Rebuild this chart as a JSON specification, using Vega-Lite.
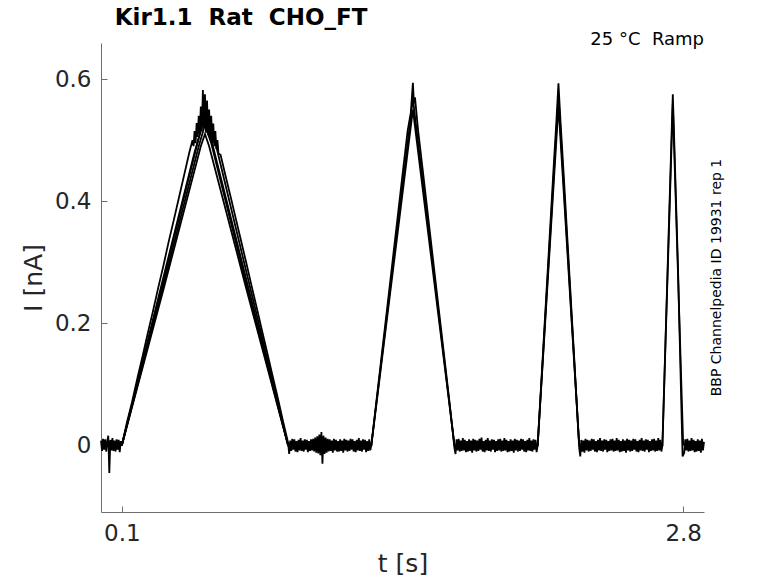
{
  "$schema": "https://vega.github.io/schema/vega-lite/v6.json",
  "autosize": "none",
  "padding": {"left": 101, "top": 43, "right": 74, "bottom": 71},
  "width": 603,
  "height": 469,
  "config": {
    "font": "DejaVu Sans",
    "view": {"stroke": null},
    "axis": {
      "grid": false,
      "domainColor": "#6e6e6e",
      "tickColor": "#6e6e6e",
      "labelColor": "#262626",
      "titleColor": "#262626",
      "labelFontSize": 23,
      "titleFontSize": 25,
      "titleFontWeight": "normal",
      "tickSize": -6
    }
  },
  "layer": [
    {
      "data": {
        "values": [
          {"t":0,"i":0.008,"s":1},{"t":0.005,"i":-0.009,"s":1},{"t":0.01,"i":0.011,"s":1},{"t":0.015,"i":-0.007,"s":1},{"t":0.02,"i":0.01,"s":1},{"t":0.025,"i":-0.01,"s":1},{"t":0.03,"i":0.007,"s":1},{"t":0.035,"i":0.016,"s":1},{"t":0.04,"i":-0.045,"s":1},{"t":0.045,"i":0.009,"s":1},{"t":0.05,"i":-0.008,"s":1},{"t":0.055,"i":0.012,"s":1},{"t":0.06,"i":-0.009,"s":1},{"t":0.065,"i":0.008,"s":1},{"t":0.07,"i":-0.01,"s":1},{"t":0.075,"i":0.01,"s":1},{"t":0.08,"i":-0.007,"s":1},{"t":0.085,"i":0.009,"s":1},{"t":0.09,"i":-0.011,"s":1},{"t":0.095,"i":0.007,"s":1},{"t":0.1,"i":0,"s":1},
          {"t":0.125,"i":0.038,"s":1},{"t":0.15,"i":0.072,"s":1},{"t":0.175,"i":0.11,"s":1},{"t":0.2,"i":0.146,"s":1},{"t":0.225,"i":0.184,"s":1},{"t":0.25,"i":0.22,"s":1},{"t":0.275,"i":0.258,"s":1},{"t":0.3,"i":0.294,"s":1},{"t":0.325,"i":0.333,"s":1},{"t":0.35,"i":0.369,"s":1},{"t":0.375,"i":0.406,"s":1},{"t":0.4,"i":0.443,"s":1},{"t":0.425,"i":0.48,"s":1},
          {"t":0.44,"i":0.5,"s":1},{"t":0.445,"i":0.49,"s":1},{"t":0.45,"i":0.515,"s":1},{"t":0.455,"i":0.495,"s":1},{"t":0.46,"i":0.528,"s":1},{"t":0.465,"i":0.505,"s":1},{"t":0.47,"i":0.54,"s":1},{"t":0.475,"i":0.51,"s":1},{"t":0.48,"i":0.555,"s":1},{"t":0.485,"i":0.515,"s":1},{"t":0.49,"i":0.582,"s":1},{"t":0.495,"i":0.52,"s":1},{"t":0.5,"i":0.575,"s":1},{"t":0.505,"i":0.512,"s":1},{"t":0.51,"i":0.565,"s":1},{"t":0.515,"i":0.508,"s":1},{"t":0.52,"i":0.55,"s":1},{"t":0.525,"i":0.5,"s":1},{"t":0.53,"i":0.54,"s":1},{"t":0.535,"i":0.495,"s":1},{"t":0.54,"i":0.527,"s":1},{"t":0.545,"i":0.49,"s":1},{"t":0.55,"i":0.515,"s":1},{"t":0.555,"i":0.485,"s":1},{"t":0.56,"i":0.5,"s":1},{"t":0.565,"i":0.478,"s":1},
          {"t":0.575,"i":0.476,"s":1},{"t":0.6,"i":0.44,"s":1},{"t":0.625,"i":0.405,"s":1},{"t":0.65,"i":0.369,"s":1},{"t":0.675,"i":0.333,"s":1},{"t":0.7,"i":0.297,"s":1},{"t":0.725,"i":0.26,"s":1},{"t":0.75,"i":0.224,"s":1},{"t":0.775,"i":0.187,"s":1},{"t":0.8,"i":0.151,"s":1},{"t":0.825,"i":0.114,"s":1},{"t":0.85,"i":0.078,"s":1},{"t":0.875,"i":0.04,"s":1},{"t":0.9,"i":0.004,"s":1},
          {"t":0.905,"i":-0.014,"s":1},{"t":0.91,"i":0.008,"s":1},{"t":0.915,"i":-0.009,"s":1},{"t":0.92,"i":0.011,"s":1},{"t":0.925,"i":-0.007,"s":1},{"t":0.93,"i":0.01,"s":1},{"t":0.935,"i":-0.01,"s":1},{"t":0.94,"i":0.007,"s":1},{"t":0.945,"i":-0.011,"s":1},{"t":0.95,"i":0.009,"s":1},{"t":0.955,"i":-0.008,"s":1},{"t":0.96,"i":0.012,"s":1},{"t":0.965,"i":-0.009,"s":1},{"t":0.97,"i":0.008,"s":1},{"t":0.975,"i":-0.01,"s":1},{"t":0.98,"i":0.01,"s":1},{"t":0.985,"i":-0.007,"s":1},{"t":0.99,"i":0.009,"s":1},{"t":0.995,"i":-0.011,"s":1},{"t":1.0,"i":0.007,"s":1},
          {"t":1.005,"i":-0.009,"s":1},{"t":1.01,"i":0.01,"s":1},{"t":1.015,"i":-0.008,"s":1},{"t":1.02,"i":0.011,"s":1},{"t":1.025,"i":-0.01,"s":1},{"t":1.03,"i":0.013,"s":1},{"t":1.035,"i":-0.012,"s":1},{"t":1.04,"i":0.015,"s":1},{"t":1.045,"i":-0.013,"s":1},{"t":1.05,"i":0.018,"s":1},{"t":1.055,"i":-0.016,"s":1},{"t":1.06,"i":0.022,"s":1},{"t":1.065,"i":-0.03,"s":1},{"t":1.07,"i":0.016,"s":1},{"t":1.075,"i":-0.014,"s":1},{"t":1.08,"i":0.013,"s":1},{"t":1.085,"i":-0.012,"s":1},{"t":1.09,"i":0.011,"s":1},{"t":1.095,"i":-0.01,"s":1},{"t":1.1,"i":0.01,"s":1},
          {"t":1.105,"i":-0.009,"s":1},{"t":1.11,"i":0.008,"s":1},{"t":1.115,"i":-0.012,"s":1},{"t":1.12,"i":0.011,"s":1},{"t":1.125,"i":-0.008,"s":1},{"t":1.13,"i":0.009,"s":1},{"t":1.135,"i":-0.01,"s":1},{"t":1.14,"i":0.007,"s":1},{"t":1.145,"i":-0.01,"s":1},{"t":1.15,"i":0.01,"s":1},{"t":1.155,"i":-0.009,"s":1},{"t":1.16,"i":0.008,"s":1},{"t":1.165,"i":-0.012,"s":1},{"t":1.17,"i":0.011,"s":1},{"t":1.175,"i":-0.008,"s":1},{"t":1.18,"i":0.009,"s":1},{"t":1.185,"i":-0.01,"s":1},{"t":1.19,"i":0.008,"s":1},{"t":1.195,"i":-0.009,"s":1},{"t":1.2,"i":0.011,"s":1},
          {"t":1.205,"i":-0.007,"s":1},{"t":1.21,"i":0.01,"s":1},{"t":1.215,"i":-0.01,"s":1},{"t":1.22,"i":0.007,"s":1},{"t":1.225,"i":-0.011,"s":1},{"t":1.23,"i":0.009,"s":1},{"t":1.235,"i":-0.008,"s":1},{"t":1.24,"i":0.012,"s":1},{"t":1.245,"i":-0.009,"s":1},{"t":1.25,"i":0.008,"s":1},{"t":1.255,"i":-0.01,"s":1},{"t":1.26,"i":0.01,"s":1},{"t":1.265,"i":-0.007,"s":1},{"t":1.27,"i":0.009,"s":1},{"t":1.275,"i":-0.011,"s":1},{"t":1.28,"i":0.007,"s":1},{"t":1.285,"i":-0.009,"s":1},{"t":1.29,"i":0.01,"s":1},{"t":1.295,"i":-0.008,"s":1},{"t":1.3,"i":0,"s":1},
          {"t":1.325,"i":0.074,"s":1},{"t":1.35,"i":0.148,"s":1},{"t":1.375,"i":0.221,"s":1},{"t":1.4,"i":0.295,"s":1},{"t":1.425,"i":0.369,"s":1},{"t":1.45,"i":0.443,"s":1},{"t":1.475,"i":0.516,"s":1},{"t":1.49,"i":0.545,"s":1},{"t":1.5,"i":0.594,"s":1},{"t":1.505,"i":0.56,"s":1},{"t":1.51,"i":0.57,"s":1},{"t":1.525,"i":0.516,"s":1},{"t":1.55,"i":0.443,"s":1},{"t":1.575,"i":0.369,"s":1},{"t":1.6,"i":0.295,"s":1},{"t":1.625,"i":0.221,"s":1},{"t":1.65,"i":0.148,"s":1},{"t":1.675,"i":0.074,"s":1},{"t":1.7,"i":-0.005,"s":1},
          {"t":1.705,"i":-0.014,"s":1},{"t":1.71,"i":0.01,"s":1},{"t":1.715,"i":-0.008,"s":1},{"t":1.72,"i":0.011,"s":1},{"t":1.725,"i":-0.01,"s":1},{"t":1.73,"i":0.008,"s":1},{"t":1.735,"i":-0.009,"s":1},{"t":1.74,"i":0.012,"s":1},{"t":1.745,"i":-0.008,"s":1},{"t":1.75,"i":0.009,"s":1},{"t":1.755,"i":-0.011,"s":1},{"t":1.76,"i":0.007,"s":1},{"t":1.765,"i":-0.01,"s":1},{"t":1.77,"i":0.01,"s":1},{"t":1.775,"i":-0.009,"s":1},{"t":1.78,"i":0.008,"s":1},{"t":1.785,"i":-0.012,"s":1},{"t":1.79,"i":0.011,"s":1},{"t":1.795,"i":-0.008,"s":1},{"t":1.8,"i":0.009,"s":1},
          {"t":1.805,"i":-0.01,"s":1},{"t":1.81,"i":0.008,"s":1},{"t":1.815,"i":-0.009,"s":1},{"t":1.82,"i":0.011,"s":1},{"t":1.825,"i":-0.007,"s":1},{"t":1.83,"i":0.013,"s":1},{"t":1.835,"i":-0.01,"s":1},{"t":1.84,"i":0.007,"s":1},{"t":1.845,"i":-0.011,"s":1},{"t":1.85,"i":0.009,"s":1},{"t":1.855,"i":-0.008,"s":1},{"t":1.86,"i":0.012,"s":1},{"t":1.865,"i":-0.009,"s":1},{"t":1.87,"i":0.008,"s":1},{"t":1.875,"i":-0.01,"s":1},{"t":1.88,"i":0.01,"s":1},{"t":1.885,"i":-0.007,"s":1},{"t":1.89,"i":0.009,"s":1},{"t":1.895,"i":-0.011,"s":1},{"t":1.9,"i":0.007,"s":1},
          {"t":1.905,"i":-0.009,"s":1},{"t":1.91,"i":0.01,"s":1},{"t":1.915,"i":-0.008,"s":1},{"t":1.92,"i":0.011,"s":1},{"t":1.925,"i":-0.01,"s":1},{"t":1.93,"i":0.008,"s":1},{"t":1.935,"i":-0.009,"s":1},{"t":1.94,"i":0.012,"s":1},{"t":1.945,"i":-0.008,"s":1},{"t":1.95,"i":0.009,"s":1},{"t":1.955,"i":-0.011,"s":1},{"t":1.96,"i":0.007,"s":1},{"t":1.965,"i":-0.01,"s":1},{"t":1.97,"i":0.01,"s":1},{"t":1.975,"i":-0.009,"s":1},{"t":1.98,"i":0.008,"s":1},{"t":1.985,"i":-0.012,"s":1},{"t":1.99,"i":0.011,"s":1},{"t":1.995,"i":-0.008,"s":1},{"t":2.0,"i":0.009,"s":1},
          {"t":2.005,"i":-0.01,"s":1},{"t":2.01,"i":0.008,"s":1},{"t":2.015,"i":-0.009,"s":1},{"t":2.02,"i":0.011,"s":1},{"t":2.025,"i":-0.007,"s":1},{"t":2.03,"i":0.01,"s":1},{"t":2.035,"i":-0.01,"s":1},{"t":2.04,"i":0.007,"s":1},{"t":2.045,"i":-0.011,"s":1},{"t":2.05,"i":0.009,"s":1},{"t":2.055,"i":-0.008,"s":1},{"t":2.06,"i":0.012,"s":1},{"t":2.065,"i":-0.009,"s":1},{"t":2.07,"i":0.008,"s":1},{"t":2.075,"i":-0.01,"s":1},{"t":2.08,"i":0.01,"s":1},{"t":2.085,"i":-0.007,"s":1},{"t":2.09,"i":0.009,"s":1},{"t":2.095,"i":-0.011,"s":1},{"t":2.1,"i":0,"s":1},
          {"t":2.125,"i":0.148,"s":1},{"t":2.15,"i":0.296,"s":1},{"t":2.175,"i":0.445,"s":1},{"t":2.19,"i":0.53,"s":1},{"t":2.2,"i":0.593,"s":1},{"t":2.21,"i":0.53,"s":1},{"t":2.225,"i":0.445,"s":1},{"t":2.25,"i":0.296,"s":1},{"t":2.275,"i":0.148,"s":1},{"t":2.3,"i":-0.005,"s":1},
          {"t":2.305,"i":-0.018,"s":1},{"t":2.31,"i":0.009,"s":1},{"t":2.315,"i":-0.01,"s":1},{"t":2.32,"i":0.008,"s":1},{"t":2.325,"i":-0.012,"s":1},{"t":2.33,"i":0.011,"s":1},{"t":2.335,"i":-0.008,"s":1},{"t":2.34,"i":0.009,"s":1},{"t":2.345,"i":-0.01,"s":1},{"t":2.35,"i":0.008,"s":1},{"t":2.355,"i":-0.009,"s":1},{"t":2.36,"i":0.011,"s":1},{"t":2.365,"i":-0.007,"s":1},{"t":2.37,"i":0.01,"s":1},{"t":2.375,"i":-0.01,"s":1},{"t":2.38,"i":0.007,"s":1},{"t":2.385,"i":-0.011,"s":1},{"t":2.39,"i":0.009,"s":1},{"t":2.395,"i":-0.008,"s":1},{"t":2.4,"i":0.012,"s":1},
          {"t":2.405,"i":-0.009,"s":1},{"t":2.41,"i":0.008,"s":1},{"t":2.415,"i":-0.01,"s":1},{"t":2.42,"i":0.01,"s":1},{"t":2.425,"i":-0.007,"s":1},{"t":2.43,"i":0.009,"s":1},{"t":2.435,"i":-0.011,"s":1},{"t":2.44,"i":0.007,"s":1},{"t":2.445,"i":-0.009,"s":1},{"t":2.45,"i":0.01,"s":1},{"t":2.455,"i":-0.008,"s":1},{"t":2.46,"i":0.011,"s":1},{"t":2.465,"i":-0.01,"s":1},{"t":2.47,"i":0.008,"s":1},{"t":2.475,"i":-0.009,"s":1},{"t":2.48,"i":0.012,"s":1},{"t":2.485,"i":-0.008,"s":1},{"t":2.49,"i":0.009,"s":1},{"t":2.495,"i":-0.011,"s":1},{"t":2.5,"i":0.007,"s":1},
          {"t":2.505,"i":-0.01,"s":1},{"t":2.51,"i":0.01,"s":1},{"t":2.515,"i":-0.009,"s":1},{"t":2.52,"i":0.008,"s":1},{"t":2.525,"i":-0.012,"s":1},{"t":2.53,"i":0.011,"s":1},{"t":2.535,"i":-0.008,"s":1},{"t":2.54,"i":0.009,"s":1},{"t":2.545,"i":-0.01,"s":1},{"t":2.55,"i":0.008,"s":1},{"t":2.555,"i":-0.009,"s":1},{"t":2.56,"i":0.011,"s":1},{"t":2.565,"i":-0.007,"s":1},{"t":2.57,"i":0.01,"s":1},{"t":2.575,"i":-0.01,"s":1},{"t":2.58,"i":0.007,"s":1},{"t":2.585,"i":-0.011,"s":1},{"t":2.59,"i":0.009,"s":1},{"t":2.595,"i":-0.008,"s":1},{"t":2.6,"i":0.012,"s":1},
          {"t":2.605,"i":-0.009,"s":1},{"t":2.61,"i":0.008,"s":1},{"t":2.615,"i":-0.01,"s":1},{"t":2.62,"i":0.01,"s":1},{"t":2.625,"i":-0.007,"s":1},{"t":2.63,"i":0.009,"s":1},{"t":2.635,"i":-0.011,"s":1},{"t":2.64,"i":0.007,"s":1},{"t":2.645,"i":-0.009,"s":1},{"t":2.65,"i":0.01,"s":1},{"t":2.655,"i":-0.008,"s":1},{"t":2.66,"i":0.011,"s":1},{"t":2.665,"i":-0.01,"s":1},{"t":2.67,"i":0.008,"s":1},{"t":2.675,"i":-0.009,"s":1},{"t":2.68,"i":0.012,"s":1},{"t":2.685,"i":-0.008,"s":1},{"t":2.69,"i":0.009,"s":1},{"t":2.695,"i":-0.01,"s":1},{"t":2.7,"i":0,"s":1},
          {"t":2.725,"i":0.29,"s":1},{"t":2.745,"i":0.52,"s":1},{"t":2.75,"i":0.575,"s":1},{"t":2.755,"i":0.52,"s":1},{"t":2.775,"i":0.29,"s":1},{"t":2.797,"i":-0.018,"s":1},
          {"t":2.805,"i":-0.012,"s":1},{"t":2.81,"i":0.01,"s":1},{"t":2.815,"i":-0.008,"s":1},{"t":2.82,"i":0.011,"s":1},{"t":2.825,"i":-0.01,"s":1},{"t":2.83,"i":0.008,"s":1},{"t":2.835,"i":-0.009,"s":1},{"t":2.84,"i":0.012,"s":1},{"t":2.845,"i":-0.008,"s":1},{"t":2.85,"i":0.009,"s":1},{"t":2.855,"i":-0.011,"s":1},{"t":2.86,"i":0.007,"s":1},{"t":2.865,"i":-0.01,"s":1},{"t":2.87,"i":0.01,"s":1},{"t":2.875,"i":-0.009,"s":1},{"t":2.88,"i":0.008,"s":1},{"t":2.885,"i":-0.012,"s":1},{"t":2.89,"i":0.011,"s":1},{"t":2.895,"i":-0.008,"s":1},{"t":2.9,"i":0.006,"s":1},
          {"t":0.1,"i":0,"s":2},{"t":0.3,"i":0.275,"s":2},{"t":0.45,"i":0.48,"s":2},{"t":0.48,"i":0.515,"s":2},{"t":0.495,"i":0.56,"s":2},{"t":0.51,"i":0.53,"s":2},{"t":0.54,"i":0.51,"s":2},{"t":0.7,"i":0.283,"s":2},{"t":0.9,"i":0,"s":2},{"t":1.3,"i":0,"s":2},{"t":1.4,"i":0.284,"s":2},{"t":1.48,"i":0.51,"s":2},{"t":1.5,"i":0.568,"s":2},{"t":1.52,"i":0.51,"s":2},{"t":1.6,"i":0.284,"s":2},{"t":1.7,"i":0,"s":2},{"t":2.1,"i":0,"s":2},{"t":2.19,"i":0.515,"s":2},{"t":2.2,"i":0.572,"s":2},{"t":2.21,"i":0.515,"s":2},{"t":2.3,"i":0,"s":2},{"t":2.7,"i":0,"s":2},{"t":2.75,"i":0.56,"s":2},{"t":2.8,"i":0,"s":2},
          {"t":0.1,"i":0,"s":3},{"t":0.3,"i":0.27,"s":3},{"t":0.46,"i":0.49,"s":3},{"t":0.49,"i":0.53,"s":3},{"t":0.5,"i":0.54,"s":3},{"t":0.52,"i":0.515,"s":3},{"t":0.7,"i":0.27,"s":3},{"t":0.9,"i":0,"s":3},{"t":1.3,"i":0,"s":3},{"t":1.4,"i":0.275,"s":3},{"t":1.5,"i":0.55,"s":3},{"t":1.6,"i":0.275,"s":3},{"t":1.7,"i":0,"s":3},{"t":2.1,"i":0,"s":3},{"t":2.2,"i":0.556,"s":3},{"t":2.3,"i":0,"s":3},
          {"t":0.1,"i":0,"s":4},{"t":0.3,"i":0.262,"s":4},{"t":0.47,"i":0.49,"s":4},{"t":0.5,"i":0.525,"s":4},{"t":0.53,"i":0.495,"s":4},{"t":0.7,"i":0.262,"s":4},{"t":0.9,"i":0,"s":4},
          {"t":0.1,"i":0,"s":5},{"t":0.3,"i":0.255,"s":5},{"t":0.48,"i":0.49,"s":5},{"t":0.5,"i":0.51,"s":5},{"t":0.52,"i":0.49,"s":5},{"t":0.7,"i":0.255,"s":5},{"t":0.9,"i":0,"s":5}
        ]
      },
      "mark": {"type": "line", "color": "#000000", "strokeWidth": 1.8},
      "encoding": {
        "x": {
          "field": "t",
          "type": "quantitative",
          "title": "t [s]",
          "scale": {"domain": [0, 2.9], "nice": false, "zero": false},
          "axis": {"values": [0.1, 2.8], "format": ".1f", "labelPadding": 16, "titlePadding": 6}
        },
        "y": {
          "field": "i",
          "type": "quantitative",
          "title": "I [nA]",
          "scale": {"domain": [-0.109, 0.659], "nice": false, "zero": false},
          "axis": {"values": [0, 0.2, 0.4, 0.6], "format": ".1~f", "labelPadding": 16, "titlePadding": 8}
        },
        "detail": {"field": "s", "type": "nominal"}
      }
    },
    {
      "data": {"values": [{"note": "Kir1.1\u00a0\u00a0Rat\u00a0\u00a0CHO_FT"}]},
      "mark": {"type": "text", "align": "left", "baseline": "alphabetic", "fontSize": 23, "fontWeight": "bold", "color": "#000000"},
      "encoding": {
        "x": {"datum": 0.066, "type": "quantitative"},
        "y": {"datum": 0.688, "type": "quantitative"},
        "text": {"field": "note"}
      }
    },
    {
      "data": {"values": [{"note": "25 °C\u00a0\u00a0Ramp"}]},
      "mark": {"type": "text", "align": "right", "baseline": "alphabetic", "dy": 2, "fontSize": 18, "color": "#000000"},
      "encoding": {
        "x": {"datum": 2.9, "type": "quantitative"},
        "y": {"datum": 0.659, "type": "quantitative"},
        "text": {"field": "note"}
      }
    },
    {
      "data": {"values": [{"note": "BBP Channelpedia ID 19931 rep 1"}]},
      "mark": {"type": "text", "align": "center", "baseline": "middle", "angle": 270, "fontSize": 14, "color": "#000000"},
      "encoding": {
        "x": {"datum": 2.963, "type": "quantitative"},
        "y": {"datum": 0.275, "type": "quantitative"},
        "text": {"field": "note"}
      }
    }
  ]
}
